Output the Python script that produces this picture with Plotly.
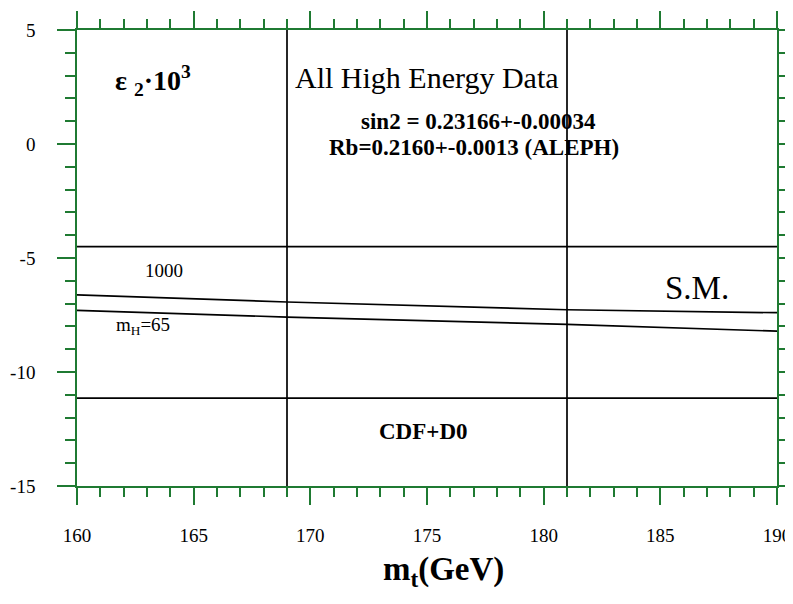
import plotly.graph_objects as go

# ---- data ----
mt_sm = [160, 169, 181, 190]
eps2_mh1000 = [-6.62, -6.93, -7.27, -7.40]
eps2_mh65 = [-7.30, -7.59, -7.91, -8.21]

mt_band = [169, 181]          # CDF+D0 top-mass band edges
eps2_band = [-4.5, -11.15]    # high-energy-data band edges

x_range = [160, 190]
y_range = [-15, 5]
x_ticks = [160, 165, 170, 175, 180, 185, 190]
x_ticklabels = ["160", "165", "170", "175", "180", "185", "190"]
y_ticks = [-15, -10, -5, 0, 5]
y_ticklabels = ["-15", "-10", "-5", "0", "5"]

GREEN = "#1f7a32"
FONT = "Liberation Serif"

fig = go.Figure()

# SM curves
fig.add_trace(go.Scatter(x=mt_sm, y=eps2_mh1000, mode="lines",
                         line=dict(color="black", width=1.7), hoverinfo="skip"))
fig.add_trace(go.Scatter(x=mt_sm, y=eps2_mh65, mode="lines",
                         line=dict(color="black", width=1.7), hoverinfo="skip"))

# band lines
for xv in mt_band:
    fig.add_trace(go.Scatter(x=[xv, xv], y=y_range, mode="lines",
                             line=dict(color="black", width=1.7), hoverinfo="skip"))
for yv in eps2_band:
    fig.add_trace(go.Scatter(x=x_range, y=[yv, yv], mode="lines",
                             line=dict(color="black", width=1.7), hoverinfo="skip"))

# dummy trace for mirrored axes
fig.add_trace(go.Scatter(x=[], y=[], xaxis="x2", yaxis="y2", hoverinfo="skip"))

common = dict(showline=True, linecolor=GREEN, linewidth=1.6, ticks="outside",
              tickcolor=GREEN, tickwidth=1.6, showgrid=False, zeroline=False,
              automargin=False)

fig.update_layout(
    width=785, height=596,
    margin=dict(l=69, r=16, t=22, b=118),
    paper_bgcolor="white", plot_bgcolor="white",
    showlegend=False,
    font=dict(family=FONT, color="black"),
    xaxis=dict(range=x_range, tickvals=x_ticks, ticktext=x_ticklabels, ticklen=17,
               minor=dict(dtick=1, ticks="outside", ticklen=9, tickcolor=GREEN, tickwidth=1.6),
               tickfont=dict(family=FONT, size=19, color="black"),
               ticklabelstandoff=14,
               **common),
    yaxis=dict(range=y_range, tickvals=y_ticks, ticktext=y_ticklabels, ticklen=18,
               minor=dict(dtick=1, ticks="outside", ticklen=10, tickcolor=GREEN, tickwidth=1.6),
               tickfont=dict(family=FONT, size=19, color="black"),
               ticklabelstandoff=18,
               **common),
    xaxis2=dict(range=x_range, tickvals=x_ticks, ticklen=17, overlaying="x", side="top",
                anchor="y2", showticklabels=False,
                minor=dict(dtick=1, ticks="outside", ticklen=9, tickcolor=GREEN, tickwidth=1.6),
                **common),
    yaxis2=dict(range=y_range, tickvals=y_ticks, ticklen=16, overlaying="y", side="right",
                anchor="x2", showticklabels=False,
                minor=dict(dtick=1, ticks="outside", ticklen=10, tickcolor=GREEN, tickwidth=1.6),
                **common),
)

ann = [
    dict(x=163.26, y=2.78, text="<b>ε <sub>2</sub>·10<sup>3</sup></b>", size=28),
    dict(x=175.0, y=2.91, text="All High Energy Data", size=30),
    dict(x=177.2, y=0.98, text="<b>sin2 = 0.23166+-0.00034</b>", size=23),
    dict(x=177.0, y=-0.16, text="<b>Rb=0.2160+-0.0013 (ALEPH)</b>", size=23),
    dict(x=163.73, y=-5.56, text="1000", size=19),
    dict(x=162.83, y=-8.0, text="m<sub>H</sub>=65", size=19),
    dict(x=186.55, y=-6.3, text="S.M.", size=33),
    dict(x=174.87, y=-12.62, text="<b>CDF+D0</b>", size=23),
    dict(x=187.43, y=5.72, text="Wars", size=14),
]
for a in ann:
    fig.add_annotation(x=a["x"], y=a["y"], xref="x", yref="y", text=a["text"],
                       showarrow=False, font=dict(family=FONT, size=a["size"], color="black"))

# x-axis title
fig.add_annotation(x=175.69, y=-0.237, xref="x", yref="paper",
                   text="<b>m<sub>t</sub>(GeV)</b>", showarrow=False,
                   font=dict(family=FONT, size=33, color="black"))

fig.write_html("out.html")
